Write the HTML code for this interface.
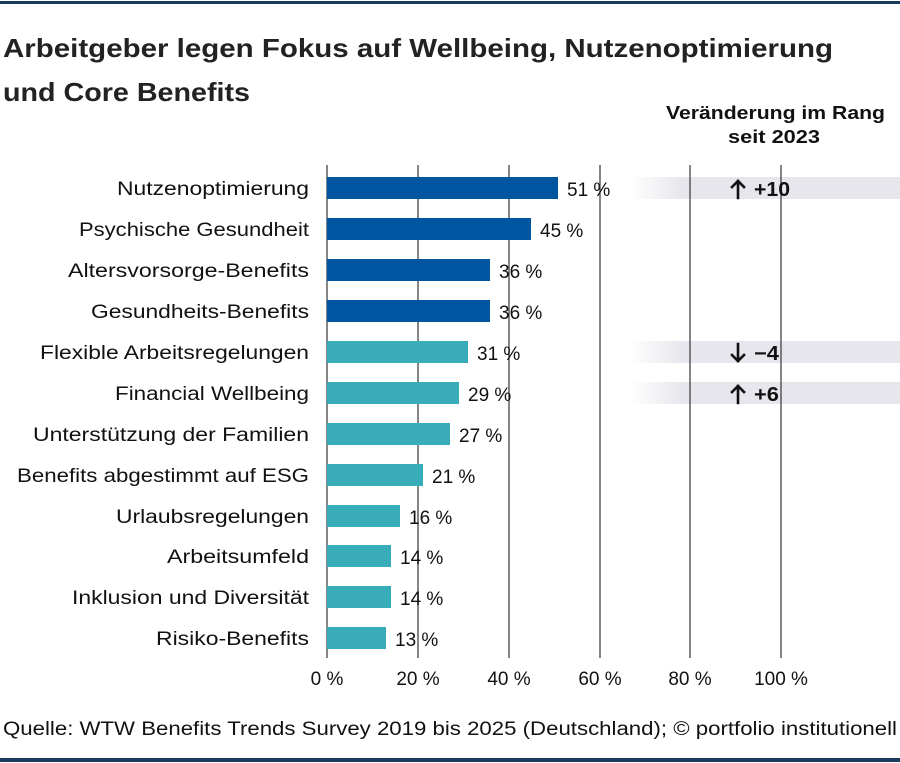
<!DOCTYPE html>
<html><head><meta charset="utf-8"><style>
body{margin:0;background:#fff}
svg{display:block;font-family:"Liberation Sans",sans-serif}
</style></head><body>
<svg width="900" height="763" viewBox="0 0 900 763" xmlns="http://www.w3.org/2000/svg">
<defs><linearGradient id="g" x1="0" x2="1"><stop offset="0" stop-color="#e6e6ec" stop-opacity="0"/><stop offset="0.2" stop-color="#e6e6ec" stop-opacity="1"/><stop offset="1" stop-color="#e6e6ec"/></linearGradient></defs>
<rect x="0" y="1" width="900" height="3" fill="#1b3a5e"/>
<rect x="0" y="758" width="900" height="4" fill="#1b3a5e"/>
<text x="3" y="57" font-size="26" font-weight="bold" fill="#222" textLength="830" lengthAdjust="spacingAndGlyphs">Arbeitgeber legen Fokus auf Wellbeing, Nutzenoptimierung</text>
<text x="3" y="101" font-size="26" font-weight="bold" fill="#222" textLength="247" lengthAdjust="spacingAndGlyphs">und Core Benefits</text>
<text x="666" y="119" font-size="18" font-weight="bold" fill="#111" textLength="219" lengthAdjust="spacingAndGlyphs">Veränderung im Rang</text>
<text x="728" y="143" font-size="18" font-weight="bold" fill="#111" textLength="92" lengthAdjust="spacingAndGlyphs">seit 2023</text>
<g fill="url(#g)">
<rect x="630" y="177" width="270" height="22"/>
<rect x="630" y="341" width="270" height="22"/>
<rect x="630" y="382" width="270" height="22"/>
</g>
<g stroke="#444" stroke-width="1.3">
<line x1="327" y1="165" x2="327" y2="658"/><line x1="418" y1="165" x2="418" y2="658"/><line x1="509" y1="165" x2="509" y2="658"/><line x1="600" y1="165" x2="600" y2="658"/><line x1="690" y1="165" x2="690" y2="658"/><line x1="781" y1="165" x2="781" y2="658"/>
</g>
<g font-size="19" fill="#111" text-anchor="end">
<text x="309" y="195" textLength="192" lengthAdjust="spacingAndGlyphs">Nutzenoptimierung</text>
<text x="309" y="236" textLength="230" lengthAdjust="spacingAndGlyphs">Psychische Gesundheit</text>
<text x="309" y="277" textLength="241" lengthAdjust="spacingAndGlyphs">Altersvorsorge-Benefits</text>
<text x="309" y="318" textLength="218" lengthAdjust="spacingAndGlyphs">Gesundheits-Benefits</text>
<text x="309" y="359" textLength="269" lengthAdjust="spacingAndGlyphs">Flexible Arbeitsregelungen</text>
<text x="309" y="400" textLength="194" lengthAdjust="spacingAndGlyphs">Financial Wellbeing</text>
<text x="309" y="441" textLength="276" lengthAdjust="spacingAndGlyphs">Unterstützung der Familien</text>
<text x="309" y="482" textLength="292" lengthAdjust="spacingAndGlyphs">Benefits abgestimmt auf ESG</text>
<text x="309" y="523" textLength="193" lengthAdjust="spacingAndGlyphs">Urlaubsregelungen</text>
<text x="309" y="563" textLength="142" lengthAdjust="spacingAndGlyphs">Arbeitsumfeld</text>
<text x="309" y="604" textLength="237" lengthAdjust="spacingAndGlyphs">Inklusion und Diversität</text>
<text x="309" y="645" textLength="153" lengthAdjust="spacingAndGlyphs">Risiko-Benefits</text>
</g>
<g fill="#0055a0">
<rect x="327" y="177" width="231" height="22"/>
<rect x="327" y="218" width="204" height="22"/>
<rect x="327" y="259" width="163" height="22"/>
<rect x="327" y="300" width="163" height="22"/>
</g>
<g fill="#38adb9">
<rect x="327" y="341" width="141" height="22"/>
<rect x="327" y="382" width="132" height="22"/>
<rect x="327" y="423" width="123" height="22"/>
<rect x="327" y="464" width="96" height="22"/>
<rect x="327" y="505" width="73" height="22"/>
<rect x="327" y="545" width="64" height="22"/>
<rect x="327" y="586" width="64" height="22"/>
<rect x="327" y="627" width="59" height="22"/>
</g>
<g font-size="19" fill="#111">
<text x="567" y="196">51 %</text>
<text x="540" y="237">45 %</text>
<text x="499" y="278">36 %</text>
<text x="499" y="319">36 %</text>
<text x="477" y="360">31 %</text>
<text x="468" y="401">29 %</text>
<text x="459" y="442">27 %</text>
<text x="432" y="483">21 %</text>
<text x="409" y="524">16 %</text>
<text x="400" y="564">14 %</text>
<text x="400" y="605">14 %</text>
<text x="395" y="646">13 %</text>
</g>
<g stroke="#111" stroke-width="2.6" fill="none" stroke-linecap="square">
<path d="M738 198V181M732 187L738 181L744 187"/>
<path d="M738 344V361M732 355L738 361L744 355"/>
<path d="M738 403V386M732 392L738 386L744 392"/>
</g>
<g font-size="20" font-weight="bold" fill="#111">
<text x="754" y="196" textLength="36" lengthAdjust="spacingAndGlyphs">+10</text>
<text x="754" y="360" textLength="25" lengthAdjust="spacingAndGlyphs">−4</text>
<text x="754" y="401" textLength="25" lengthAdjust="spacingAndGlyphs">+6</text>
</g>
<g font-size="19" fill="#111" text-anchor="middle">
<text x="327" y="685">0 %</text><text x="418" y="685">20 %</text><text x="509" y="685">40 %</text><text x="600" y="685">60 %</text><text x="690" y="685">80 %</text><text x="781" y="685">100 %</text>
</g>
<text x="3" y="735" font-size="19" fill="#111" textLength="894" lengthAdjust="spacingAndGlyphs">Quelle: WTW Benefits Trends Survey 2019 bis 2025 (Deutschland); © portfolio institutionell</text>
</svg>
</body></html>
